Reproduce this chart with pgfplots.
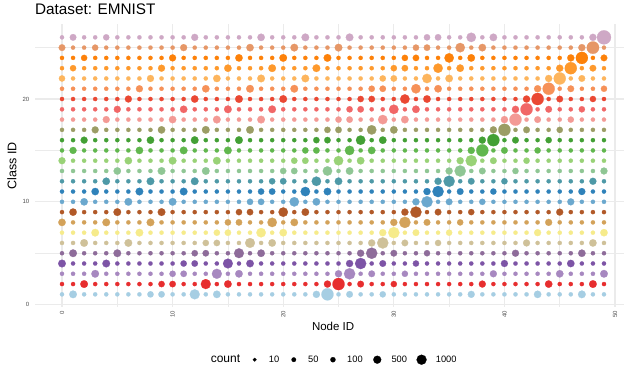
\documentclass[border=0pt]{standalone}
\usepackage{fontspec}
\setmainfont{Liberation Sans}
\usepackage{pgfplots}
\usepackage{pgfplotstable}
\pgfplotsset{compat=1.18}

% one colour per class (class ids are ordered as text labels: 1,10,11,...,19,2,20,...)
\definecolor{c1}{RGB}{166,206,227}
\definecolor{c2}{RGB}{231,46,47}
\definecolor{c3}{RGB}{167,136,192}
\definecolor{c4}{RGB}{125,84,166}
\definecolor{c5}{RGB}{142,108,154}
\definecolor{c6}{RGB}{207,193,153}
\definecolor{c7}{RGB}{246,235,139}
\definecolor{c8}{RGB}{211,162,90}
\definecolor{c9}{RGB}{177,89,40}
\definecolor{c10}{RGB}{107,168,206}
\definecolor{c11}{RGB}{47,130,186}
\definecolor{c12}{RGB}{78,153,167}
\definecolor{c13}{RGB}{143,198,148}
\definecolor{c14}{RGB}{153,210,119}
\definecolor{c15}{RGB}{97,183,78}
\definecolor{c16}{RGB}{67,160,53}
\definecolor{c17}{RGB}{155,157,101}
\definecolor{c18}{RGB}{243,154,149}
\definecolor{c19}{RGB}{241,103,103}
\definecolor{c20}{RGB}{234,72,51}
\definecolor{c21}{RGB}{246,145,88}
\definecolor{c22}{RGB}{253,181,93}
\definecolor{c23}{RGB}{254,153,44}
\definecolor{c24}{RGB}{253,129,9}
\definecolor{c25}{RGB}{230,151,103}
\definecolor{c26}{RGB}{206,168,197}
\definecolor{gridgray}{RGB}{235,235,235}
\definecolor{tickgray}{RGB}{77,77,77}

% samples per (class, node): one row per class, one column per node
\pgfplotstableread{
class 0 1 2 3 4 5 6 7 8 9 10 11 12 13 14 15 16 17 18 19 20 21 22 23 24 25 26 27 28 29 30 31 32 33 34 35 36 37 38 39 40 41 42 43 44 45 46 47 48 49
1 35 450 35 35 35 35 35 35 230 250 35 35 1000 35 420 35 35 35 35 35 35 35 35 350 1700 35 280 35 35 220 35 35 35 35 35 35 35 330 35 35 35 35 35 400 35 35 35 450 35 35
2 35 35 450 35 35 35 35 35 35 230 250 35 35 1000 35 420 35 35 35 35 35 35 35 35 350 1700 35 280 35 35 220 35 35 35 35 35 35 35 330 35 35 35 35 35 400 35 35 35 450 35
3 35 35 35 450 35 35 35 35 35 35 230 250 35 35 1000 35 420 35 35 35 35 35 35 35 35 350 1400 35 280 35 35 220 35 35 35 35 35 35 35 330 35 35 35 35 35 400 35 35 35 450
4 450 35 35 35 450 35 35 35 35 35 35 230 250 35 35 950 35 420 35 35 35 35 35 35 35 35 350 1400 35 280 35 35 220 35 35 35 35 35 35 35 330 35 35 35 35 35 400 35 35 35
5 35 450 35 35 35 450 35 35 35 35 35 35 230 250 35 35 950 35 420 35 35 35 35 35 35 35 35 350 1400 35 280 35 35 220 35 35 35 35 35 35 35 330 35 35 35 35 35 400 35 35
6 35 35 450 35 35 35 450 35 35 35 35 35 35 230 250 35 35 950 35 420 35 35 35 35 35 35 35 35 350 1400 35 280 35 35 220 35 35 35 35 35 35 35 330 35 35 35 35 35 400 35
7 35 35 35 450 35 35 35 450 35 35 35 35 35 35 230 250 35 35 850 35 420 35 35 35 35 35 35 35 35 350 1400 35 280 35 35 220 35 35 35 35 35 35 35 330 35 35 35 35 35 400
8 400 35 35 35 450 35 35 35 450 35 35 35 35 35 35 230 250 35 35 850 35 420 35 35 35 35 35 35 35 35 350 1400 35 280 35 35 220 35 35 35 35 35 35 35 330 35 35 35 35 35
9 35 400 35 35 35 450 35 35 35 450 35 35 35 35 35 35 230 250 35 35 850 35 420 35 35 35 35 35 35 35 35 350 1400 35 280 35 35 220 35 35 35 35 35 35 35 330 35 35 35 35
10 35 35 400 35 35 35 450 35 35 35 450 35 35 35 35 35 35 230 250 35 35 850 35 420 35 35 35 35 35 35 35 35 350 1400 35 280 35 35 220 35 35 35 35 35 35 35 330 35 35 35
11 35 35 35 400 35 35 35 450 35 35 35 450 35 35 35 35 35 35 230 250 35 35 850 35 420 35 35 35 35 35 35 35 35 350 1400 35 280 35 35 220 35 35 35 35 35 35 35 330 35 35
12 35 35 35 35 400 35 35 35 450 35 35 35 450 35 35 35 35 35 35 230 250 35 35 850 35 420 35 35 35 35 35 35 35 35 350 1400 35 280 35 35 220 35 35 35 35 35 35 35 330 35
13 35 35 35 35 35 400 35 35 35 450 35 35 35 450 35 35 35 35 35 35 230 250 35 35 850 35 420 35 35 35 35 35 35 35 35 350 1400 35 280 35 35 220 35 35 35 35 35 35 35 330
14 330 35 35 35 35 35 400 35 35 35 450 35 35 35 450 35 35 35 35 35 35 230 250 35 35 850 35 420 35 35 35 35 35 35 35 35 350 1400 35 280 35 35 220 35 35 35 35 35 35 35
15 35 330 35 35 35 35 35 400 35 35 35 450 35 35 35 450 35 35 35 35 35 35 230 250 35 35 850 35 420 35 35 35 35 35 35 35 35 350 1700 35 280 35 35 220 35 35 35 35 35 35
16 35 35 330 35 35 35 35 35 400 35 35 35 450 35 35 35 450 35 35 35 35 35 35 230 250 35 35 850 35 420 35 35 35 35 35 35 35 35 350 1700 35 280 35 35 220 35 35 35 35 35
17 35 35 35 330 35 35 35 35 35 400 35 35 35 450 35 35 35 450 35 35 35 35 35 35 230 250 35 35 850 35 420 35 35 35 35 35 35 35 35 350 1700 35 280 35 35 220 35 35 35 35
18 35 35 35 35 330 35 35 35 35 35 400 35 35 35 450 35 35 35 450 35 35 35 35 35 35 230 250 35 35 850 35 420 35 35 35 35 35 35 35 35 350 1700 35 280 35 35 220 35 35 35
19 35 35 35 35 35 330 35 35 35 35 35 400 35 35 35 450 35 35 35 450 35 35 35 35 35 35 230 250 35 35 850 35 420 35 35 35 35 35 35 35 35 350 1700 35 280 35 35 220 35 35
20 35 35 35 35 35 35 330 35 35 35 35 35 400 35 35 35 450 35 35 35 450 35 35 35 35 35 35 230 250 35 35 850 35 420 35 35 35 35 35 35 35 35 350 1700 35 280 35 35 220 35
21 35 35 35 35 35 35 35 330 35 35 35 35 35 400 35 35 35 450 35 35 35 450 35 35 35 35 35 35 230 250 35 35 850 35 420 35 35 35 35 35 35 35 35 350 1700 35 280 35 35 220
22 220 35 35 35 35 35 35 35 330 35 35 35 35 35 400 35 35 35 450 35 35 35 450 35 35 35 35 35 35 230 250 35 35 850 35 420 35 35 35 35 35 35 35 35 350 1700 35 280 35 35
23 35 220 35 35 35 35 35 35 35 330 35 35 35 35 35 400 35 35 35 450 35 35 35 450 35 35 35 35 35 35 230 250 35 35 850 35 420 35 35 35 35 35 35 35 35 350 1700 35 280 35
24 35 35 220 35 35 35 35 35 35 35 330 35 35 35 35 35 400 35 35 35 450 35 35 35 450 35 35 35 35 35 35 230 250 35 35 850 35 420 35 35 35 35 35 35 35 35 350 1700 35 280
25 280 35 35 220 35 35 35 35 35 35 35 330 35 35 35 35 35 400 35 35 35 450 35 35 35 450 35 35 35 35 35 35 230 250 35 35 850 35 420 35 35 35 35 35 35 35 35 350 1800 35
26 35 280 35 35 220 35 35 35 35 35 35 35 330 35 35 35 35 35 400 35 35 35 450 35 35 35 450 35 35 35 35 35 35 230 250 35 35 850 35 420 35 35 35 35 35 35 35 35 350 2500
}\rawcounts
% rows become nodes, one column per class
\pgfplotstabletranspose[colnames from=class,input colnames to=node]{\counts}{\rawcounts}

\begin{document}
\begin{tikzpicture}
\useasboundingbox (0,0) rectangle (624pt,372pt);
\begin{axis}[
  at={(34.9pt,64.8pt)}, anchor=south west,
  scale only axis, width=589.1pt, height=282.7pt,
  xmin=-2.45, xmax=50.81, ymin=-0.25, ymax=27.25,
  xtick={0,10,...,50}, ytick={0,10,20},
  minor xtick={5,15,...,45}, minor ytick={5,15,25},
  grid=both,
  major grid style={line width=1.1pt, color=gridgray},
  minor grid style={line width=0.55pt, color=gridgray},
  axis line style={draw=none},
  major tick length=0pt, minor tick length=0pt,
  /pgf/number format/assume math mode=true,
  tick label style={font=\fontsize{6}{6}\selectfont, text=tickgray},
  yticklabel style={xshift=-5.5pt, anchor=east, inner sep=0pt},
  xticklabel style={yshift=-3.5pt, rotate=90, anchor=east, inner sep=0pt},
  title={Dataset: EMNIST},
  title style={at={(axis description cs:0,1.0336)}, anchor=base west, inner sep=0pt,
    yshift=-6pt, font=\fontsize{15.3}{15.3}\selectfont},
  xlabel={Node ID},
  xlabel style={at={(axis description cs:0.5062,-0.069)}, anchor=center, inner sep=0pt,
    font=\fontsize{11.5}{11.5}\selectfont},
  ylabel={Class ID},
  ylabel style={at={(axis description cs:-0.0389,0.5)}, anchor=center, inner sep=0pt,
    font=\fontsize{12.5}{12.5}\selectfont},
  legend columns=-1,
  legend image code/.code={\path[draw=none,fill=none] (-7pt,-5.5pt) rectangle (7pt,5.5pt);
    \draw[#1] plot coordinates {(0pt,0pt)};},
  legend style={at={(axis description cs:0.2862,-0.1857)}, anchor=west,
    draw=none, fill=none, inner sep=0pt, outer sep=0pt,
    font=\fontsize{9.3}{9.3}\selectfont,
    nodes={inner sep=0pt},
    /tikz/every odd column/.append style={column sep=7.3pt},
    /tikz/every even column/.append style={column sep=7.5pt}},
]
% size key
\addlegendimage{empty legend}
\addlegendentry[font=\fontsize{12}{12}\selectfont]{count}
\addlegendimage{mark=*, black, mark size=1.80pt, line width=0.2pt}
\addlegendentry{10}
\addlegendimage{mark=*, black, mark size=2.24pt, line width=0.2pt}
\addlegendentry{50}
\addlegendimage{mark=*, black, mark size=2.56pt, line width=0.2pt}
\addlegendentry{100}
\addlegendimage{mark=*, black, mark size=3.93pt, line width=0.2pt}
\addlegendentry{500}
\addlegendimage{mark=*, black, mark size=4.96pt, line width=0.2pt}
\addlegendentry{1000}

% one dot row per class, dot area follows the count
\pgfplotsinvokeforeach{1,...,26}{
  \addplot[scatter, only marks, mark=*, mark options={line width=0.2pt},
    scatter/use mapped color={draw=c#1, fill=c#1},
    visualization depends on={(2.9+11.1*sqrt(\thisrow{#1}/2500))/2 \as \msz},
    scatter/@pre marker code/.append style={/tikz/mark size=\msz}]
    table[x=node, y expr=#1] {\counts};
}
\end{axis}
\end{tikzpicture}
\end{document}
